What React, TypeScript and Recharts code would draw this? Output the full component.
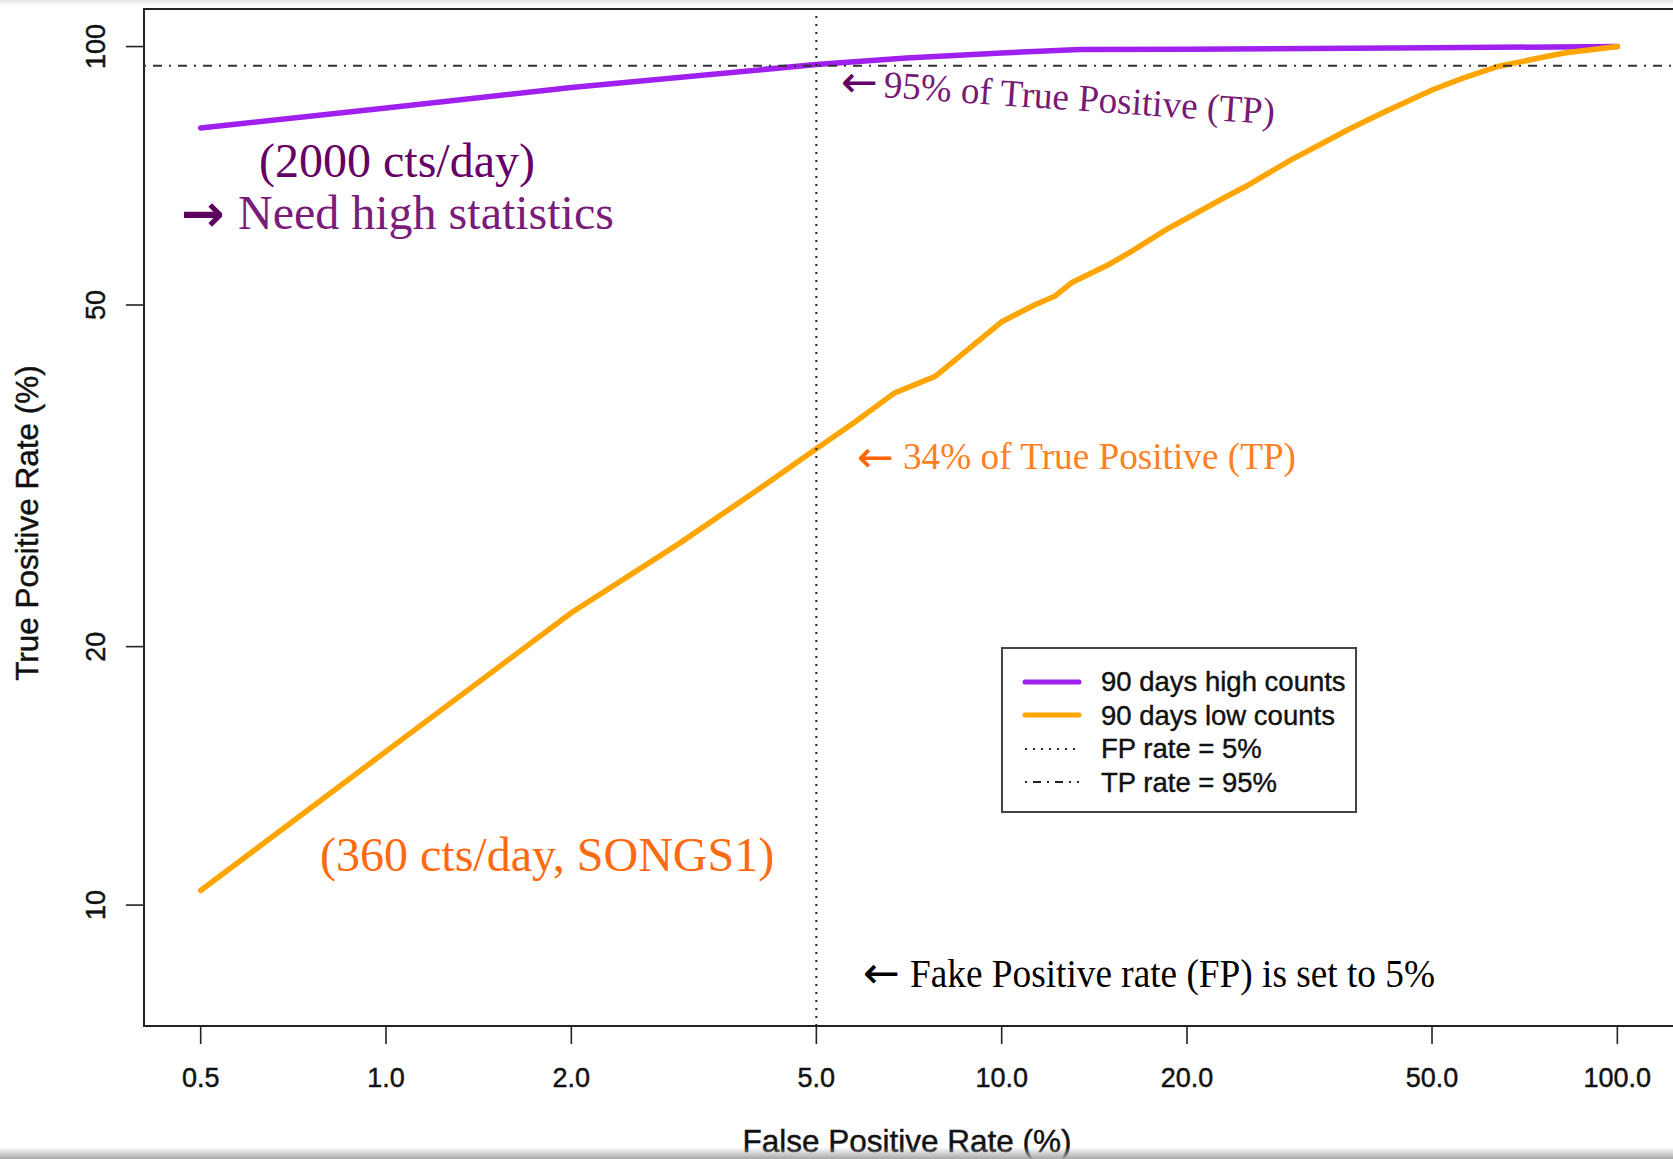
import { LineChart, Line, XAxis, YAxis, ReferenceLine, ReferenceArea, Legend } from 'recharts';

// ROC curves on log-log axes: false positive rate (%) vs true positive rate (%)
const highFpr = [0.5, 1, 2, 5, 7, 10, 13.4, 20, 50, 100];
const highTpr = [80.4, 84.8, 89.6, 95.3, 97.0, 98.3, 99.2, 99.3, 99.7, 100];

const lowFpr = [
  0.5, 1, 2, 3, 4, 5, 5.8, 6.7, 7.8, 10, 11.3, 12.2, 13, 14.9, 16.1, 18.5, 20,
  23.1, 24.9, 29.5, 34.4, 36.5, 42, 50, 56, 64, 76.3, 82, 100,
];
const lowTpr = [
  10.4, 15.1, 21.9, 26.4, 30.4, 34, 36.6, 39.5, 41.3, 47.8, 50, 51.2, 53.1, 55.7, 57.5, 61.2, 63.1,
  66.8, 68.7, 73.8, 78.2, 80, 84, 89, 91.8, 94.8, 97.3, 98.3, 100,
];

const xTicks = [0.5, 1, 2, 5, 10, 20, 50, 100];
const yTicks = [10, 20, 50, 100];

const fpThreshold = 5;
const tpThreshold = 95;

const legendLabels = ['90 days high counts', '90 days low counts', 'FP rate = 5%', 'TP rate = 95%'];

// axis limits padded 4% in log space around [0.5, 100] and [8, 100]
const X_DOMAIN: [number, number] = [0.4045, 123.6];
const Y_DOMAIN: [number, number] = [7.23, 110.6];

const HIGH_COLOR = '#A020F0';
const LOW_COLOR = '#FFA500';
const SANS = '"Liberation Sans", Arial, Helvetica, sans-serif';
const SERIF = '"Liberation Serif", "Times New Roman", serif';
const ARROW_FONT = '"DejaVu Sans", sans-serif';

const highData = highFpr.map((fpr, i) => ({ fpr, tpr: highTpr[i] }));
const lowData = lowFpr.map((fpr, i) => ({ fpr, tpr: lowTpr[i] }));

const legendStrokes = [
  { color: HIGH_COLOR, width: 5, dash: undefined },
  { color: LOW_COLOR, width: 5, dash: undefined },
  { color: '#222', width: 1.8, dash: '2 6' },
  { color: '#222', width: 1.8, dash: '2 6 8 6' },
];

// slightly heavier axis text, like the R/Helvetica output
const axisText = { fontFamily: SANS, fill: '#111', stroke: '#111', strokeWidth: 0.45 };

const renderXTick = (props: any) => {
  const { x, y, payload } = props;
  return (
    <text x={x} y={y} textAnchor="middle" dominantBaseline="central" fontSize={27} {...axisText}>
      {Number(payload.value).toFixed(1)}
    </text>
  );
};

const renderYTick = (props: any) => {
  const { x, y, payload } = props;
  return (
    <text
      x={x}
      y={y}
      transform={`rotate(-90, ${x}, ${y})`}
      textAnchor="middle"
      dominantBaseline="central"
      fontSize={27}
      {...axisText}
    >
      {payload.value}
    </text>
  );
};

const renderLegend = () => (
  <div
    style={{
      boxSizing: 'border-box',
      width: 356,
      height: 166,
      border: '2px solid #444',
      background: '#fff',
      paddingTop: 16,
    }}
  >
    {legendLabels.map((label, i) => (
      <div key={label} style={{ display: 'flex', alignItems: 'center', height: 33.5 }}>
        <svg width={98} height={20} style={{ flex: 'none' }}>
          <line
            x1={22}
            x2={76}
            y1={10}
            y2={10}
            stroke={legendStrokes[i].color}
            strokeWidth={legendStrokes[i].width}
            strokeDasharray={legendStrokes[i].dash}
            strokeLinecap={legendStrokes[i].dash ? 'butt' : 'round'}
          />
        </svg>
        <span
          style={{
            fontFamily: SANS,
            fontSize: 27.5,
            color: '#111',
            lineHeight: '27px',
            WebkitTextStroke: '0.4px #111',
          }}
        >
          {label}
        </span>
      </div>
    ))}
  </div>
);

export default function App() {
  return (
    <div
      style={{
        position: 'absolute',
        left: 0,
        top: 0,
        width: 1673,
        height: 1159,
        overflow: 'hidden',
        background: '#fff',
      }}
    >
      <LineChart width={1680} height={1159} margin={{ top: 9, right: 6, bottom: 0, left: 0 }}>
        <XAxis
          type="number"
          dataKey="fpr"
          scale="log"
          domain={X_DOMAIN}
          allowDataOverflow
          ticks={xTicks}
          interval={0}
          axisLine={false}
          tickSize={18}
          tickMargin={34}
          tickLine={{ stroke: '#222', strokeWidth: 1.6 }}
          tick={renderXTick}
          height={133}
        />
        <YAxis
          type="number"
          scale="log"
          domain={Y_DOMAIN}
          allowDataOverflow
          ticks={yTicks}
          interval={0}
          axisLine={false}
          tickSize={18}
          tickMargin={30}
          tickLine={{ stroke: '#222', strokeWidth: 1.6 }}
          tick={renderYTick}
          width={144}
        />
        <ReferenceArea
          x1={X_DOMAIN[0]}
          x2={X_DOMAIN[1]}
          y1={Y_DOMAIN[0]}
          y2={Y_DOMAIN[1]}
          fill="none"
          fillOpacity={0}
          stroke="#222"
          strokeWidth={2}
          ifOverflow="visible"
        />
        <Line
          data={highData}
          dataKey="tpr"
          type="linear"
          stroke={HIGH_COLOR}
          strokeWidth={5.5}
          strokeLinecap="round"
          dot={false}
          activeDot={false}
          isAnimationActive={false}
        />
        <Line
          data={lowData}
          dataKey="tpr"
          type="linear"
          stroke={LOW_COLOR}
          strokeWidth={5.5}
          strokeLinecap="round"
          dot={false}
          activeDot={false}
          isAnimationActive={false}
        />
        <ReferenceLine x={fpThreshold} stroke="#222" strokeWidth={2} strokeDasharray="2 6" />
        <ReferenceLine y={tpThreshold} stroke="#333" strokeWidth={2} strokeDasharray="2 7 9 7" />
        <Legend
          layout="vertical"
          align="center"
          verticalAlign="middle"
          content={renderLegend}
          wrapperStyle={{ position: 'absolute', left: 1001, top: 647, width: 356, height: 166 }}
        />
      </LineChart>

      {/* axis titles and annotations */}
      <svg
        width={1673}
        height={1159}
        style={{ position: 'absolute', left: 0, top: 0, pointerEvents: 'none' }}
      >
        <text
          x={27}
          y={523}
          transform="rotate(-90, 27, 523)"
          textAnchor="middle"
          dominantBaseline="central"
          fontSize={31.5}
          {...axisText}
        >
          True Positive Rate (%)
        </text>
        <text x={907} y={1152} textAnchor="middle" fontSize={31.5} {...axisText}>
          False Positive Rate (%)
        </text>

        <text x={259} y={177} fontFamily={SERIF} fontSize={48} fill="#660066">
          (2000 cts/day)
        </text>
        <text x={181} y={231} fontFamily={ARROW_FONT} fontSize={52} fontWeight="bold" fill="#5e005e">
          →
        </text>
        <text x={238} y={229} fontFamily={SERIF} fontSize={48} fill="#7a1c7a">
          Need high statistics
        </text>

        <text x={841} y={97} fontFamily={ARROW_FONT} fontSize={44} fill="#600060">
          ←
        </text>
        <text
          x={883}
          y={97}
          transform="rotate(4, 883, 97)"
          fontFamily={SERIF}
          fontSize={38}
          textLength={392}
          lengthAdjust="spacingAndGlyphs"
          fill="#761a76"
        >
          95% of True Positive (TP)
        </text>

        <text x={857} y={472} fontFamily={ARROW_FONT} fontSize={44} fill="#FF6600">
          ←
        </text>
        <text
          x={903}
          y={469}
          fontFamily={SERIF}
          fontSize={38}
          textLength={393}
          lengthAdjust="spacingAndGlyphs"
          fill="#FF7F24"
        >
          34% of True Positive (TP)
        </text>

        <text x={320} y={871} fontFamily={SERIF} fontSize={48} fill="#FF6A10">
          (360 cts/day, SONGS1)
        </text>

        <text x={863} y={988} fontFamily={ARROW_FONT} fontSize={44} fill="#000">
          ←
        </text>
        <text
          x={910}
          y={987}
          fontFamily={SERIF}
          fontSize={39}
          textLength={525}
          lengthAdjust="spacingAndGlyphs"
          fill="#000"
        >
          Fake Positive rate (FP) is set to 5%
        </text>
      </svg>

      <div
        style={{
          position: 'absolute',
          left: 0,
          top: 0,
          width: 1673,
          height: 5,
          background: 'linear-gradient(#e6e6e6, #fafafa)',
        }}
      />
      <div
        style={{
          position: 'absolute',
          left: 0,
          bottom: 0,
          width: 1673,
          height: 12,
          background: 'linear-gradient(rgba(255,255,255,0), #a8a8a8)',
        }}
      />
    </div>
  );
}
